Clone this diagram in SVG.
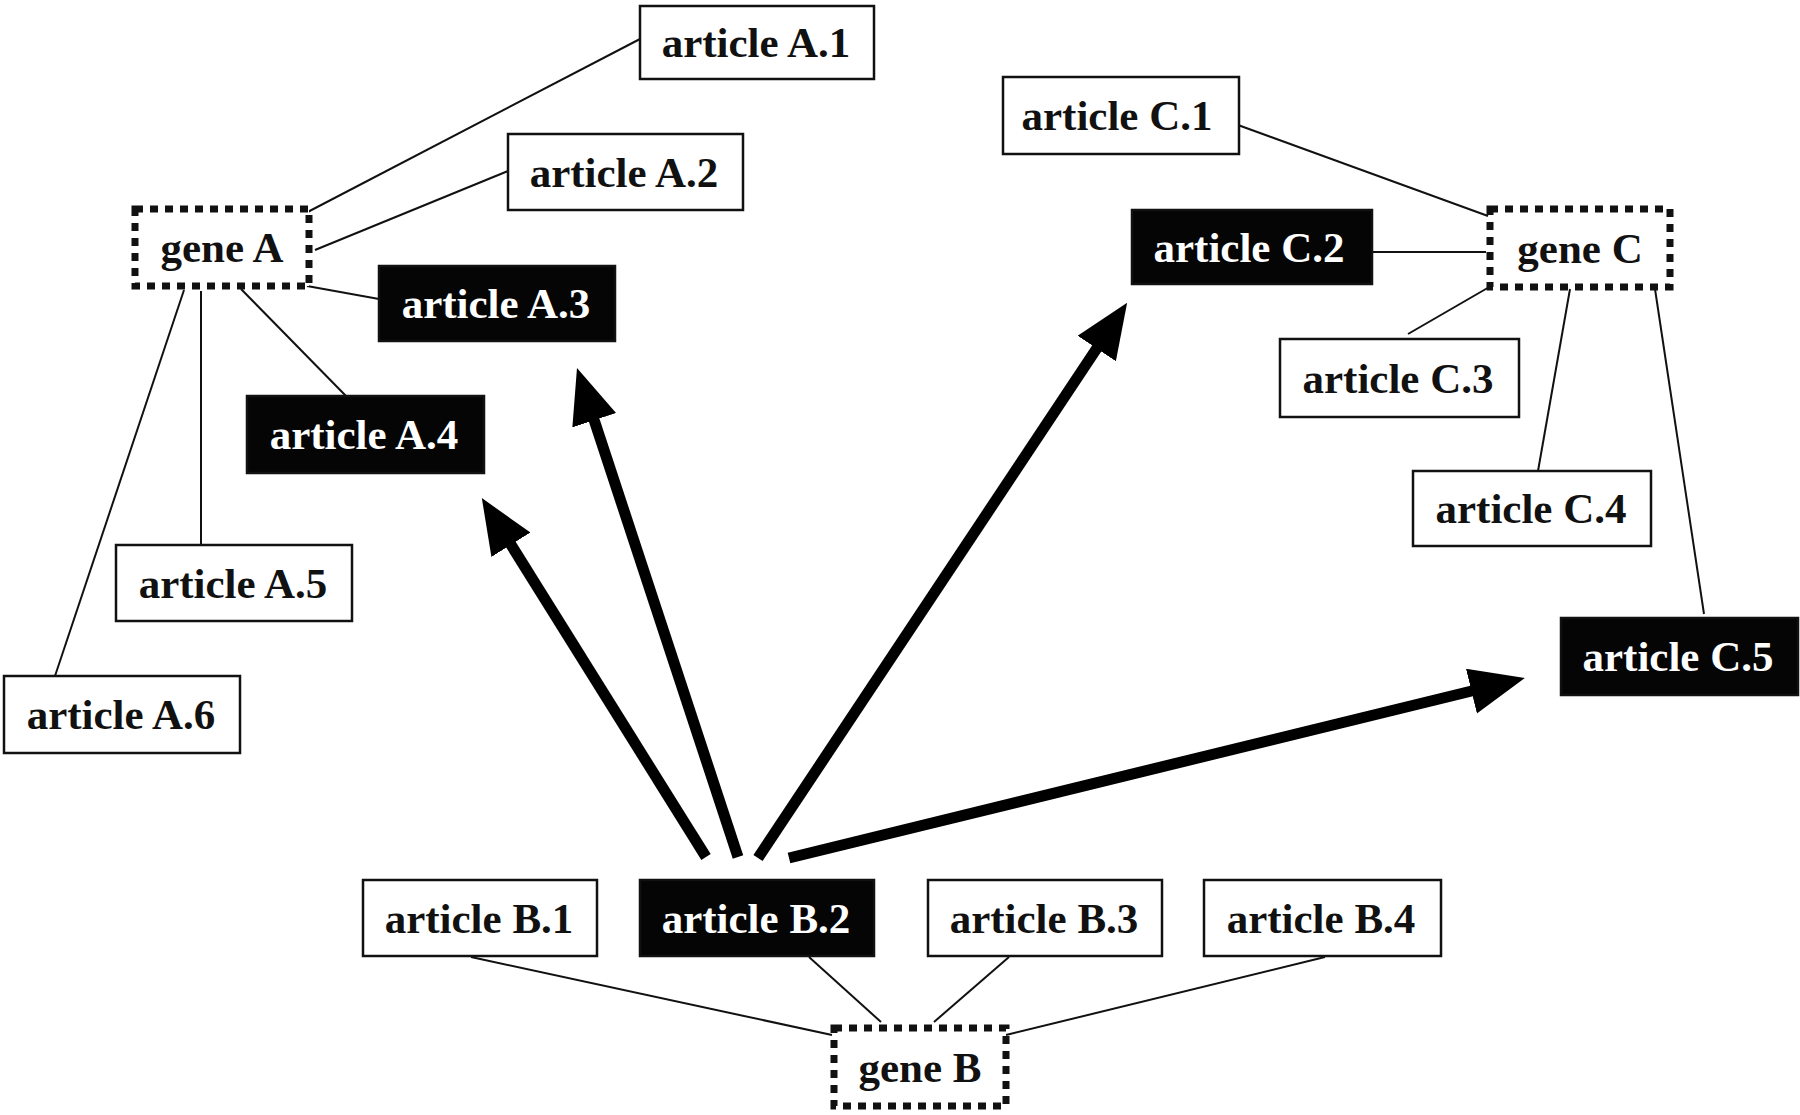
<svg xmlns="http://www.w3.org/2000/svg" width="1800" height="1115" viewBox="0 0 1800 1115">
<style>
.box{fill:#fff;stroke:#111;stroke-width:2.5}
.dark{fill:#050505;stroke:#111;stroke-width:2.5}
.gene{fill:#fff;stroke:#111;stroke-width:7;stroke-dasharray:8 7}
.t{font-family:"Liberation Serif","Times New Roman",serif;font-weight:bold;font-size:43px;text-anchor:middle;fill:#111}
.tw{font-family:"Liberation Serif","Times New Roman",serif;font-weight:bold;font-size:43px;text-anchor:middle;fill:#fff}
.thin{stroke:#111;stroke-width:2;fill:none}
.thick{stroke:#000;stroke-width:11;fill:none;marker-end:url(#ah)}
</style>
<defs>
<marker id="ah" markerUnits="userSpaceOnUse" markerWidth="56" markerHeight="48" refX="15" refY="23" orient="auto">
<path d="M0,0 L55,23 L0,46 z" fill="#000"/>
</marker>
</defs>
<rect width="1800" height="1115" fill="#fff"/>
<g id="connectors">
<line class="thin" x1="640" y1="39" x2="300" y2="216"/>
<line class="thin" x1="508" y1="171" x2="315" y2="250"/>
<line class="thin" x1="307" y1="286" x2="379" y2="299"/>
<line class="thin" x1="241" y1="289" x2="346" y2="396"/>
<line class="thin" x1="201" y1="291" x2="201" y2="545"/>
<line class="thin" x1="184" y1="290" x2="55" y2="676"/>
<line class="thin" x1="1227" y1="121" x2="1488" y2="216"/>
<line class="thin" x1="1372" y1="252" x2="1486" y2="252"/>
<line class="thin" x1="1491" y1="286" x2="1408" y2="334"/>
<line class="thin" x1="1570" y1="289" x2="1538" y2="471"/>
<line class="thin" x1="1655" y1="289" x2="1704" y2="614"/>
<line class="thin" x1="471" y1="957" x2="832" y2="1035"/>
<line class="thin" x1="809" y1="957" x2="881" y2="1022"/>
<line class="thin" x1="1009" y1="957" x2="934" y2="1022"/>
<line class="thin" x1="1325" y1="957" x2="1006" y2="1035"/>
<line class="thick" x1="706" y1="857" x2="503" y2="532"/>
<line class="thick" x1="738" y1="857" x2="589.5" y2="406"/>
<line class="thick" x1="758" y1="858" x2="1105" y2="336"/>
<line class="thick" x1="789" y1="858" x2="1486" y2="687.5"/>
</g>
<g id="geneA"><rect class="gene" x="135" y="209" width="174" height="77"/><text class="t" x="222" y="262">gene A</text></g>
<g id="geneB"><rect class="gene" x="834" y="1028" width="172" height="78"/><text class="t" x="920" y="1082">gene B</text></g>
<g id="geneC"><rect class="gene" x="1490" y="209" width="180" height="78"/><text class="t" x="1580" y="263">gene C</text></g>
<g id="articleA1"><rect class="box" x="640" y="6" width="234" height="73"/><text class="t" x="756" y="57">article A.1</text></g>
<g id="articleA2"><rect class="box" x="508" y="134" width="235" height="76"/><text class="t" x="624" y="187">article A.2</text></g>
<g id="articleA3"><rect class="dark" x="379" y="266" width="236" height="75"/><text class="tw" x="496" y="318">article A.3</text></g>
<g id="articleA4"><rect class="dark" x="247" y="396" width="237" height="77"/><text class="tw" x="364" y="449">article A.4</text></g>
<g id="articleA5"><rect class="box" x="116" y="545" width="236" height="76"/><text class="t" x="233" y="598">article A.5</text></g>
<g id="articleA6"><rect class="box" x="4" y="676" width="236" height="77"/><text class="t" x="121" y="729">article A.6</text></g>
<g id="articleC1"><rect class="box" x="1003" y="77" width="236" height="77"/><text class="t" x="1117" y="130">article C.1</text></g>
<g id="articleC2"><rect class="dark" x="1132" y="210" width="240" height="74"/><text class="tw" x="1249" y="262">article C.2</text></g>
<g id="articleC3"><rect class="box" x="1280" y="339" width="239" height="78"/><text class="t" x="1398" y="393">article C.3</text></g>
<g id="articleC4"><rect class="box" x="1413" y="471" width="238" height="75"/><text class="t" x="1531" y="523">article C.4</text></g>
<g id="articleC5"><rect class="dark" x="1561" y="618" width="237" height="77"/><text class="tw" x="1678" y="671">article C.5</text></g>
<g id="articleB1"><rect class="box" x="363" y="880" width="234" height="76"/><text class="t" x="479" y="933">article B.1</text></g>
<g id="articleB2"><rect class="dark" x="640" y="880" width="234" height="76"/><text class="tw" x="756" y="933">article B.2</text></g>
<g id="articleB3"><rect class="box" x="928" y="880" width="234" height="76"/><text class="t" x="1044" y="933">article B.3</text></g>
<g id="articleB4"><rect class="box" x="1204" y="880" width="237" height="76"/><text class="t" x="1321" y="933">article B.4</text></g>
</svg>
